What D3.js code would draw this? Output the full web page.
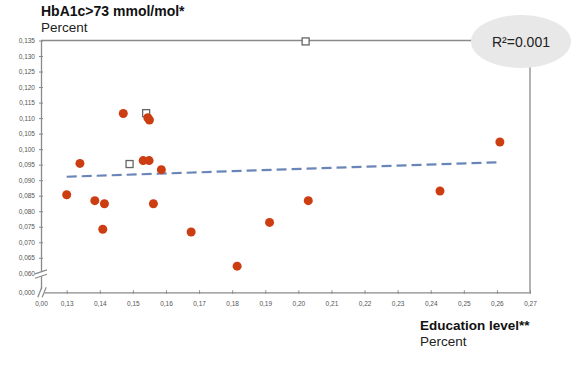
<!DOCTYPE html>
<html><head><meta charset="utf-8">
<script src="https://cdn.jsdelivr.net/npm/d3@7"></script>
<style>body{margin:0;background:#fff;} svg{display:block;font-family:"Liberation Sans",Arial,sans-serif;}</style>
</head><body>
<script>
// Data (education level, HbA1c>73 share)
const circleX = [0.130,0.134,0.1385,0.1414,0.1409,0.1471,0.1545,0.1550,0.1531,0.1549,0.1586,0.1562,0.1676,0.1815,0.1913,0.2030,0.2428,0.2609];
const circleY = [0.0853,0.0954,0.0834,0.0824,0.0742,0.1115,0.1101,0.1094,0.0963,0.0963,0.0934,0.0824,0.0733,0.0623,0.0764,0.0834,0.0865,0.1023];
const squareX = [0.149,0.154,0.2022];
const squareY = [0.0952,0.1116,0.1347];
const trendX = [0.130,0.261];
const trendY = [0.0911,0.0958];
const xTicks = [0,0.13,0.14,0.15,0.16,0.17,0.18,0.19,0.20,0.21,0.22,0.23,0.24,0.25,0.26,0.27];
const yTicks = [0,0.060,0.065,0.070,0.075,0.080,0.085,0.090,0.095,0.100,0.105,0.110,0.115,0.120,0.125,0.130,0.135];
const r2Label = "R²=0.001";

const W=584,H=369;
const svg=d3.select("body").append("svg").attr("width",W).attr("height",H);
const x=d3.scaleLinear().domain([0,0.13,0.27]).range([41,66.7,530]);
const y=d3.scaleLinear().domain([0,0.06,0.135]).range([292.3,273.3,40.5]);
const axisCol="#8a8a8a";

// frame top and right
svg.append("line").attr("x1",x(0)).attr("x2",x(0.27)).attr("y1",y(0.135)).attr("y2",y(0.135)).attr("stroke",axisCol).attr("stroke-width",1.3);
svg.append("line").attr("x1",x(0.27)).attr("x2",x(0.27)).attr("y1",y(0.135)).attr("y2",y(0)).attr("stroke",axisCol).attr("stroke-width",1.3);

// x axis
const xa=svg.append("g").attr("transform",`translate(0,${y(0)})`)
  .call(d3.axisBottom(x).tickValues(xTicks).tickSize(0).tickPadding(9).tickFormat(d=>d3.format(".2f")(d).replace(".",",")));
xa.select(".domain").attr("stroke",axisCol).attr("stroke-width",1.3);
xa.selectAll("text").attr("font-size",6.5).attr("fill","#555");
xa.selectAll(".tick").append("line").attr("y1",-2).attr("y2",1.5).attr("stroke",axisCol);
// y axis
const ya=svg.append("g").attr("transform",`translate(${x(0)},0)`)
  .call(d3.axisLeft(y).tickValues(yTicks).tickSize(0).tickPadding(6).tickFormat(d=>d3.format(".3f")(d).replace(".",",")));
ya.select(".domain").attr("stroke",axisCol).attr("stroke-width",1.3);
ya.selectAll("text").attr("font-size",6.5).attr("fill","#555");
ya.selectAll(".tick").append("line").attr("x1",-2).attr("x2",2).attr("stroke",axisCol);

// axis breaks
const by=y(0.0575), bx=x(0.005);
svg.append("rect").attr("x",x(0)-3).attr("y",by-2.2).attr("width",6).attr("height",4.4).attr("fill","#fff");
[-2.2,2.2].forEach(o=>svg.append("line").attr("x1",x(0)-6).attr("x2",x(0)+6).attr("y1",by+o+2).attr("y2",by+o-2).attr("stroke",axisCol).attr("stroke-width",1.2));
svg.append("rect").attr("x",bx-2.5).attr("y",y(0)-3).attr("width",5).attr("height",6).attr("fill","#fff");
[-2.2,2.2].forEach(o=>svg.append("line").attr("x1",bx+o-2).attr("x2",bx+o+2).attr("y1",y(0)+5).attr("y2",y(0)-5).attr("stroke",axisCol).attr("stroke-width",1.2));

// trend line
svg.append("path").datum(trendX.map((d,i)=>[d,trendY[i]]))
  .attr("d",d3.line().x(d=>x(d[0])).y(d=>y(d[1])))
  .attr("fill","none").attr("stroke","#6a86b9").attr("stroke-width",2.2).attr("stroke-dasharray","10,5");

// squares
svg.selectAll("rect.sq").data(squareX.map((d,i)=>[d,squareY[i]])).enter().append("rect")
  .attr("x",d=>x(d[0])-3.5).attr("y",d=>y(d[1])-3.5).attr("width",7).attr("height",7)
  .attr("fill","#fff").attr("stroke","#666").attr("stroke-width",1.3);

// circles
svg.selectAll("circle").data(circleX.map((d,i)=>[d,circleY[i]])).enter().append("circle")
  .attr("cx",d=>x(d[0])).attr("cy",d=>y(d[1])).attr("r",4.5).attr("fill","#cc3d12");

// R2 ellipse
svg.append("ellipse").attr("cx",521).attr("cy",41.5).attr("rx",50).attr("ry",26.5).attr("fill","#e8e8e8");
svg.append("text").attr("x",521).attr("y",46.5).attr("text-anchor","middle").attr("font-size",14).attr("fill","#222").text(r2Label);

// titles
svg.append("text").attr("x",41).attr("y",16).attr("font-size",14).attr("font-weight","bold").attr("fill","#111").text("HbA1c>73 mmol/mol*");
svg.append("text").attr("x",41).attr("y",32).attr("font-size",13.5).attr("fill","#222").text("Percent");
svg.append("text").attr("x",420).attr("y",330).attr("font-size",13.5).attr("font-weight","bold").attr("fill","#111").text("Education level**");
svg.append("text").attr("x",420).attr("y",346).attr("font-size",13.5).attr("fill","#222").text("Percent");
</script>
</body></html>
